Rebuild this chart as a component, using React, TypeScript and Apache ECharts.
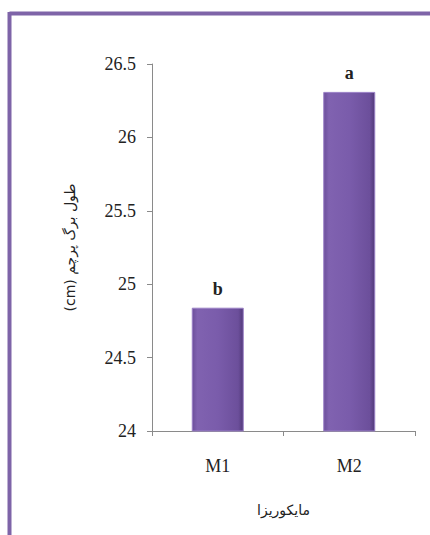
import React, { useEffect, useRef } from "react";
import * as echarts from "echarts";

const categories = ["M1", "M2"];
const values = [24.84, 26.31];
const letters = ["b", "a"];
const yTicks = { min: 24, max: 26.5, interval: 0.5 };
const yTitle = "(cm) طول برگ پرچم";
const xTitle = "مایکوریزا";

export default function App() {
  const ref = useRef<HTMLDivElement>(null);
  useEffect(() => {
    if (!ref.current) return;
    const chart = echarts.init(ref.current, null, { renderer: "svg" });
    const serif = "Liberation Serif";
    const arabic = "DejaVu Sans";
    const barColor = {
      type: "linear", x: 0, y: 0, x2: 1, y2: 0,
      colorStops: [
        { offset: 0, color: "#6c4f9b" },
        { offset: 0.1, color: "#8062b0" },
        { offset: 0.5, color: "#7a5cab" },
        { offset: 0.9, color: "#6c4f9b" },
        { offset: 1, color: "#523a7a" },
      ],
    };
    chart.setOption({
      animation: false,
      backgroundColor: "#ffffff",
      textStyle: { fontFamily: serif },
      graphic: [
        { type: "line", shape: { x1: 9.5, y1: 13.5, x2: 430, y2: 13.5 }, style: { stroke: "#7e64a8", lineWidth: 4 } },
        { type: "line", shape: { x1: 9.5, y1: 12, x2: 9.5, y2: 535 }, style: { stroke: "#7e64a8", lineWidth: 4 } },
      ],
      grid: { left: 152, right: 15, top: 64, bottom: 104 },
      xAxis: {
        type: "category",
        data: categories,
        name: xTitle,
        nameLocation: "middle",
        nameGap: 72,
        nameTextStyle: { fontSize: 14, color: "#222", fontFamily: arabic },
        axisLine: { lineStyle: { color: "#8a8a8a", width: 1 } },
        axisTick: { show: true, length: 5, alignWithLabel: false, lineStyle: { color: "#8a8a8a" } },
        axisLabel: { margin: 26, fontSize: 18, color: "#222", fontFamily: serif },
      },
      yAxis: {
        type: "value",
        min: yTicks.min,
        max: yTicks.max,
        interval: yTicks.interval,
        name: yTitle,
        nameLocation: "middle",
        nameRotate: 90,
        nameGap: 75,
        nameTextStyle: { fontSize: 14, color: "#222", fontFamily: arabic },
        splitLine: { show: false },
        axisLine: { show: true, lineStyle: { color: "#8a8a8a", width: 1 } },
        axisTick: { show: true, length: 5, lineStyle: { color: "#8a8a8a" } },
        axisLabel: {
          margin: 16,
          color: "#222",
          formatter: (v: number) => "{t|" + String(v) + "}",
          rich: { t: { fontSize: 18, color: "#222", fontFamily: serif } },
        },
      },
      series: [
        {
          type: "bar",
          data: values,
          barWidth: 52,
          itemStyle: { color: barColor, borderColor: "#9a80c6", borderWidth: 1 },
          label: {
            show: true,
            position: "top",
            distance: 10,
            formatter: (p: any) => letters[p.dataIndex],
            fontSize: 18,
            fontWeight: "bold",
            color: "#222",
            fontFamily: serif,
          },
        },
      ],
    });
    return () => chart.dispose();
  }, []);
  return <div ref={ref} style={{ position: "fixed", left: 0, top: 0, width: 430, height: 535, background: "#fff" }} />;
}
